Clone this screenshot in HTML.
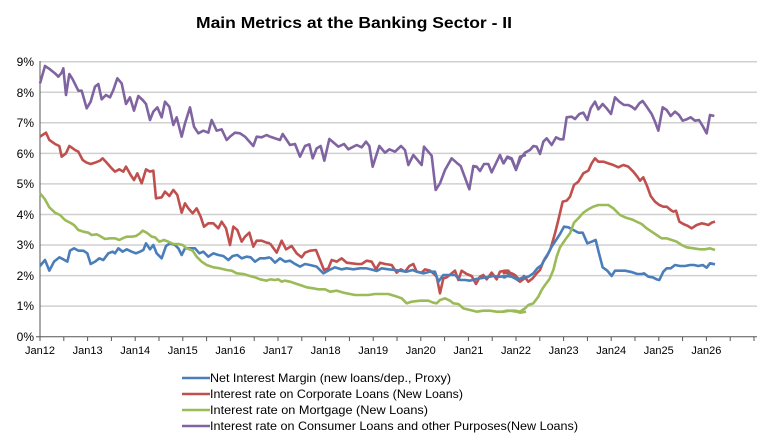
<!DOCTYPE html>
<html><head><meta charset="utf-8"><style>html,body{margin:0;padding:0;background:#fff}svg{display:block}</style></head>
<body>
<svg width="766" height="448" viewBox="0 0 766 448" xmlns="http://www.w3.org/2000/svg" font-family="Liberation Sans, Arial, sans-serif">
<text x="354" y="28" text-anchor="middle" font-size="16" font-weight="bold" textLength="316" lengthAdjust="spacingAndGlyphs">Main Metrics at the Banking Sector - II</text>
<g stroke="#d0d0d0" stroke-width="1.5">
<line x1="40" x2="757" y1="61.7" y2="61.7"/><line x1="40" x2="757" y1="92.3" y2="92.3"/><line x1="40" x2="757" y1="122.8" y2="122.8"/><line x1="40" x2="757" y1="153.4" y2="153.4"/><line x1="40" x2="757" y1="183.9" y2="183.9"/><line x1="40" x2="757" y1="214.5" y2="214.5"/><line x1="40" x2="757" y1="245" y2="245"/><line x1="40" x2="757" y1="275.6" y2="275.6"/><line x1="40" x2="757" y1="306.1" y2="306.1"/>
</g>
<g stroke="#555" stroke-width="1">
<line x1="40" x2="40" y1="61" y2="337"/><line x1="36" x2="757" y1="336.7" y2="336.7"/>
</g>
<g stroke="#555" stroke-width="1" id="ticks"></g>
<g font-size="12" text-anchor="end" fill="#000">
<text x="34" y="66">9%</text><text x="34" y="97">8%</text><text x="34" y="127">7%</text><text x="34" y="158">6%</text><text x="34" y="188">5%</text><text x="34" y="219">4%</text><text x="34" y="249">3%</text><text x="34" y="280">2%</text><text x="34" y="310">1%</text><text x="34" y="341">0%</text>
</g>
<g font-size="11" text-anchor="middle" fill="#000">
<text x="40" y="354">Jan12</text><text x="87.6" y="354">Jan13</text><text x="135.2" y="354">Jan14</text><text x="182.8" y="354">Jan15</text><text x="230.4" y="354">Jan16</text><text x="278" y="354">Jan17</text><text x="325.6" y="354">Jan18</text><text x="373.2" y="354">Jan19</text><text x="420.8" y="354">Jan20</text><text x="468.4" y="354">Jan21</text><text x="516" y="354">Jan22</text><text x="563.6" y="354">Jan23</text><text x="611.2" y="354">Jan24</text><text x="658.8" y="354">Jan25</text><text x="706.4" y="354">Jan26</text>
</g>
<g stroke="#555" stroke-width="1">
<line x1="40" x2="40" y1="337" y2="341"/><line x1="63.8" x2="63.8" y1="337" y2="341"/><line x1="87.6" x2="87.6" y1="337" y2="341"/><line x1="111.4" x2="111.4" y1="337" y2="341"/><line x1="135.2" x2="135.2" y1="337" y2="341"/><line x1="159" x2="159" y1="337" y2="341"/><line x1="182.8" x2="182.8" y1="337" y2="341"/><line x1="206.6" x2="206.6" y1="337" y2="341"/><line x1="230.4" x2="230.4" y1="337" y2="341"/><line x1="254.2" x2="254.2" y1="337" y2="341"/><line x1="278" x2="278" y1="337" y2="341"/><line x1="301.8" x2="301.8" y1="337" y2="341"/><line x1="325.6" x2="325.6" y1="337" y2="341"/><line x1="349.4" x2="349.4" y1="337" y2="341"/><line x1="373.2" x2="373.2" y1="337" y2="341"/><line x1="397" x2="397" y1="337" y2="341"/><line x1="420.8" x2="420.8" y1="337" y2="341"/><line x1="444.6" x2="444.6" y1="337" y2="341"/><line x1="468.4" x2="468.4" y1="337" y2="341"/><line x1="492.2" x2="492.2" y1="337" y2="341"/><line x1="516" x2="516" y1="337" y2="341"/><line x1="539.8" x2="539.8" y1="337" y2="341"/><line x1="563.6" x2="563.6" y1="337" y2="341"/><line x1="587.4" x2="587.4" y1="337" y2="341"/><line x1="611.2" x2="611.2" y1="337" y2="341"/><line x1="635" x2="635" y1="337" y2="341"/><line x1="658.8" x2="658.8" y1="337" y2="341"/><line x1="682.6" x2="682.6" y1="337" y2="341"/><line x1="706.4" x2="706.4" y1="337" y2="341"/><line x1="730.2" x2="730.2" y1="337" y2="341"/><line x1="754" x2="754" y1="337" y2="341"/>
</g>
<g fill="none" stroke-width="2.6" stroke-linejoin="round" vector-effect="non-scaling-stroke">
<!-- zoom1 region: translate(0,40) scale(1/3) -->
<g transform="translate(0,40) scale(0.33333)">
<polyline vector-effect="non-scaling-stroke" stroke="#8064a2" stroke-width="2.6" points="120,130 135,78 150,88 165,100 175,110 185,98 190,85 198,165 208,102 218,118 235,152 245,152 260,205 272,185 285,140 295,132 305,178 318,165 330,172 340,150 352,115 365,130 378,192 390,172 402,212 415,168 428,180 438,192 450,240 460,215 472,202 485,232 495,185 508,200 520,255 530,232 545,290 555,250 570,202 582,260 595,280 610,272 625,278 635,240 650,272 665,268 680,300 690,290 705,278 720,280 735,290 760,318 770,290 785,292 800,285 810,290"/>
<polyline vector-effect="non-scaling-stroke" stroke="#c0504d" stroke-width="2.6" points="120,290 138,278 148,300 165,312 178,318 185,350 198,340 208,318 225,330 235,335 248,360 260,368 272,372 285,368 300,362 308,355 320,368 335,385 345,395 358,388 370,395 378,380 392,405 402,420 412,400 425,430 438,388 450,395 460,392 468,475 485,472 495,455 508,468 520,450 532,465 545,518 555,490 565,505 578,520 590,505 602,530 612,560 625,550 640,550 655,565 665,545 678,565 690,615 700,560 712,570 725,605 735,590 748,578 760,620 770,602 785,602 800,608 810,610"/>
<polyline vector-effect="non-scaling-stroke" stroke="#4a7ebb" stroke-width="2.6" points="120,678 135,660 148,692 162,665 178,652 190,658 202,665 210,632 222,625 235,632 250,632 262,640 272,672 285,665 298,655 310,660 325,640 338,635 345,640 355,625 368,635 380,628 395,635 408,640 420,635 430,630 438,610 450,628 460,615 470,640 485,655 498,618 510,610 525,615 535,625 545,645 555,625 570,625 585,625 598,640 610,635 625,650 640,640 655,645 670,648 685,660 698,648 712,645 725,655 740,650 752,652 765,665 780,655 795,655 810,652"/>
<polyline vector-effect="non-scaling-stroke" stroke="#9bbb59" stroke-width="2.6" points="120,460 135,478 148,502 165,518 180,525 195,540 210,548 222,555 235,570 250,575 265,578 275,585 290,583 300,588 315,597 330,595 345,595 358,600 368,595 380,590 395,590 408,588 420,580 428,572 440,578 455,590 465,592 478,605 492,600 505,605 520,612 535,612 548,615 560,625 578,632 590,650 605,665 620,675 640,682 660,685 680,690 695,692 710,700 730,702 750,708 765,712 780,718 800,722 810,718"/>
</g>
<g transform="translate(270,40) scale(0.33333)">
<polyline vector-effect="non-scaling-stroke" stroke="#8064a2" stroke-width="2.6" points="0,290 30,300 38,282 60,315 75,312 90,350 105,318 118,313 128,355 140,325 152,318 163,362 178,297 205,320 222,312 235,328 260,315 275,322 288,305 298,318 308,380 328,318 345,338 358,328 375,335 393,318 405,330 415,375 430,345 455,375 462,320 485,347 497,450 510,430 525,390 545,355 562,370 572,378 598,448 610,378 620,380 630,393 642,372 655,372 665,397 690,345 700,370 712,352 725,358 738,390 750,350 768,345"/>
<polyline vector-effect="non-scaling-stroke" stroke="#c0504d" stroke-width="2.6" points="0,610 20,638 35,602 48,628 65,618 80,640 95,652 105,638 120,632 138,630 150,660 162,690 175,685 185,660 200,665 215,655 230,668 245,670 262,672 275,672 290,662 305,665 318,688 330,668 345,672 365,675 380,698 392,688 405,695 418,678 430,672 440,695 455,698 465,688 480,692 490,700 500,710 510,760 520,715 530,712 545,700 555,692 565,720 575,692 590,702 605,708 618,732 630,710 640,705 650,718 665,698 680,718 690,695 705,692 715,692 725,705 740,718 750,725 768,712"/>
<polyline vector-effect="non-scaling-stroke" stroke="#4a7ebb" stroke-width="2.6" points="0,652 15,668 30,655 45,665 60,662 72,670 90,680 105,672 120,675 140,680 160,700 178,690 195,682 215,688 230,685 250,688 270,685 290,685 310,690 320,693 335,685 355,688 375,690 390,692 410,695 428,690 440,695 460,700 480,695 495,695 505,725 520,705 540,705 555,705 570,720 585,720 600,722 615,718 630,715 650,712 670,708 690,710 710,708 725,710 740,718 750,720 768,712"/>
<polyline vector-effect="non-scaling-stroke" stroke="#9bbb59" stroke-width="2.6" points="0,718 15,720 25,718 35,725 45,722 60,725 75,730 90,735 110,742 130,745 145,748 165,748 180,755 200,752 220,758 240,762 255,765 275,765 295,765 315,762 335,762 355,762 375,768 395,775 410,790 425,785 450,782 475,782 490,788 500,790 510,780 525,775 540,782 550,790 565,792 580,805 600,810 620,815 640,812 660,812 680,815 700,815 720,812 740,815 750,818 768,815"/>
</g>
<g transform="translate(500,40) scale(0.33333)">
<polyline vector-effect="non-scaling-stroke" stroke="#8064a2" stroke-width="2.6" points="10,372 22,350 35,355 48,388 62,355 75,338 90,330 100,318 110,320 120,342 130,305 140,295 155,315 168,292 180,298 190,298 200,232 215,230 225,237 238,222 250,218 262,240 272,205 285,185 295,208 308,192 320,205 333,222 345,172 358,185 372,195 385,195 395,200 405,208 418,190 428,183 440,200 455,222 465,245 475,272 488,202 500,210 512,228 525,215 537,225 548,242 560,238 572,232 585,242 597,240 608,258 620,280 630,225 643,228"/>
<polyline vector-effect="non-scaling-stroke" stroke="#c0504d" stroke-width="2.6" points="8,700 20,698 35,700 45,705 60,722 72,708 85,725 98,715 110,700 120,690 130,665 140,650 152,625 165,580 175,540 188,485 200,482 210,470 222,435 235,425 250,400 265,392 275,370 285,355 295,365 310,365 325,370 340,375 355,382 370,375 385,380 400,395 412,410 420,422 430,412 442,440 452,468 465,485 478,495 490,500 500,500 512,510 520,515 528,512 538,545 550,552 562,557 575,565 590,555 605,550 615,552 625,555 635,548 645,545"/>
<polyline vector-effect="non-scaling-stroke" stroke="#4a7ebb" stroke-width="2.6" points="8,712 15,712 25,705 40,712 55,718 70,712 85,710 100,700 112,685 125,675 135,655 145,640 155,620 165,605 180,582 192,560 205,562 220,570 235,578 248,578 262,610 275,605 287,600 297,640 308,682 322,692 335,708 345,692 360,692 375,692 390,695 400,698 412,702 425,702 432,700 445,710 458,712 470,718 478,720 490,695 500,685 512,685 525,675 540,678 555,678 570,675 582,675 595,678 608,675 620,683 630,670 645,673"/>
<polyline vector-effect="non-scaling-stroke" stroke="#9bbb59" stroke-width="2.6" points="8,815 20,812 45,812 60,815 75,805 85,795 100,790 115,770 125,750 135,735 148,718 160,690 170,650 180,622 195,600 210,580 222,548 235,535 250,518 265,508 280,500 295,495 310,495 325,495 340,505 350,515 360,525 375,532 395,538 410,545 425,552 440,565 455,575 470,585 485,595 500,595 515,600 530,605 545,615 560,622 580,625 600,628 615,628 630,625 645,630"/>
</g>
</g>
<g stroke-width="2.6">
<line x1="182" x2="210" y1="378" y2="378" stroke="#4a7ebb"/>
<line x1="182" x2="210" y1="394" y2="394" stroke="#c0504d"/>
<line x1="182" x2="210" y1="410" y2="410" stroke="#9bbb59"/>
<line x1="182" x2="210" y1="426" y2="426" stroke="#8064a2"/>
</g>
<g font-size="12" fill="#000">
<text x="210" y="382" textLength="241" lengthAdjust="spacingAndGlyphs">Net Interest Margin (new loans/dep., Proxy)</text>
<text x="210" y="398" textLength="253" lengthAdjust="spacingAndGlyphs">Interest rate on Corporate Loans (New Loans)</text>
<text x="210" y="414" textLength="218" lengthAdjust="spacingAndGlyphs">Interest rate on Mortgage (New Loans)</text>
<text x="210" y="430" textLength="368" lengthAdjust="spacingAndGlyphs">Interest rate on Consumer Loans and other Purposes(New Loans)</text>
</g>
</svg>
</body></html>
